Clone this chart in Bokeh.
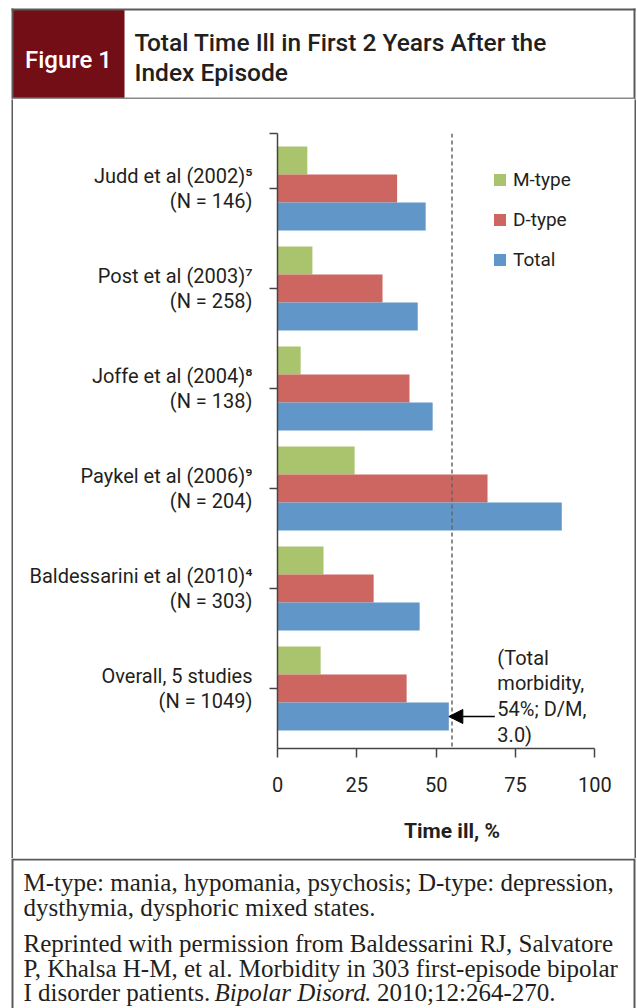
from bokeh.plotting import figure
from bokeh.models import (Range1d, FixedTicker, Legend, LegendItem, Span, Label,
                          Arrow, NormalHead, ColumnDataSource, Spacer)
from bokeh.layouts import column, row
from bokeh.transform import dodge
from bokeh.core.properties import value
from bokeh.embed import file_html
from bokeh.resources import INLINE

# ---------------- data ----------------
studies = ["Judd et al (2002)\u2075", "Post et al (2003)\u2077", "Joffe et al (2004)\u2078",
           "Paykel et al (2006)\u2079", "Baldessarini et al (2010)\u2074", "Overall, 5 studies"]
sample_sizes = ["(N = 146)", "(N = 258)", "(N = 138)", "(N = 204)", "(N = 303)", "(N = 1049)"]
m_type = [9.4, 11.0, 7.3, 24.3, 14.5, 13.6]
d_type = [37.7, 33.1, 41.6, 66.2, 30.3, 40.7]
total = [46.7, 44.2, 48.9, 89.6, 44.8, 54.0]
x_ticks = [0, 25, 50, 75, 100]
reference_line = 55
overall_note = "(Total\nmorbidity,\n54%; D/M,\n3.0)"
series_names = ["M-type", "D-type", "Total"]
series_colors = ["#A9C46C", "#CD6661", "#6096C8"]
figure_tag = "Figure 1"
title_lines = ["Total Time Ill in First 2 Years After the", "Index Episode"]
foot_lines = ["M-type: mania, hypomania, psychosis; D-type: depression,",
              "dysthymia, dysphoric mixed states.",
              "Reprinted with permission from Baldessarini RJ, Salvatore",
              "P, Khalsa H-M, et al. Morbidity in 303 first-episode bipolar"]
foot_last = ["I disorder patients.", "Bipolar Disord", ". 2010;12:264-270."]

# ---------------- style ----------------
W = 637
HEAD_H, PLOT_H, FOOT_H = 99, 759, 150
SANS = "Roboto"
SANS_MED = "Roboto Medium, Roboto"
SERIF = "Liberation Serif"
INK = "#231F20"
BORDER = "#5a5a5a"
MAROON = "#730D16"
XL, XR = 12, 634          # outer border lines (page px)


def canvas_fig(w, h, fill="white"):
    f = figure(width=w, height=h, x_range=Range1d(0, w), y_range=Range1d(h, 0),
               toolbar_location=None, output_backend="svg", min_border=0,
               x_axis_location=None, y_axis_location=None, outline_line_color=None,
               background_fill_color=fill, border_fill_color=fill, frame_align=False)
    f.grid.visible = False
    return f


# ---------------- header ----------------
h = canvas_fig(W, HEAD_H)
h.quad(left=[XL], right=[124], top=[9], bottom=[98], fill_color=MAROON, line_color=None)
h.segment(x0=[XL - 1], y0=[9], x1=[XR + 1], y1=[9], line_color=BORDER, line_width=2)
h.segment(x0=[XL, XR], y0=[8, 8], x1=[XL, XR], y1=[HEAD_H, HEAD_H], line_color=BORDER, line_width=2)
h.segment(x0=[XL], y0=[98], x1=[XR], y1=[98], line_color="#8a8a8a", line_width=2)
h.text(x=[68], y=[59], text=[figure_tag], text_color="white", text_font=value(SANS_MED),
       text_font_size="24px", text_align="center", text_baseline="middle")
h.text(x=[134, 134], y=[42, 72], text=title_lines, text_color=INK, text_font=value(SANS_MED),
       text_font_size="24.5px", text_align="left", text_baseline="middle")

# ---------------- plot ----------------
n = len(studies)
src = ColumnDataSource(dict(pos=list(range(n)), m=m_type, d=d_type, t=total))
PW = XR - XL - 1
p = figure(width=PW, height=PLOT_H, x_range=Range1d(0, 110), y_range=Range1d(5.6, -0.55),
           toolbar_location=None, output_backend="svg", frame_align=False,
           min_border_left=264, min_border_right=PW - 264 - 349, min_border_top=34,
           min_border_bottom=110, outline_line_color=None)
p.grid.visible = False

bw = 0.28
r_m = p.hbar(y=dodge("pos", -bw, range=p.y_range), left=0, right="m", height=bw, source=src,
             fill_color=series_colors[0], line_color=None)
r_d = p.hbar(y=dodge("pos", 0, range=p.y_range), left=0, right="d", height=bw, source=src,
             fill_color=series_colors[1], line_color=None)
r_t = p.hbar(y=dodge("pos", bw, range=p.y_range), left=0, right="t", height=bw, source=src,
             fill_color=series_colors[2], line_color=None)

p.add_layout(Span(location=reference_line, dimension="height", line_color="#666666",
                  line_width=1.5, line_dash="4 3"))

xa = p.xaxis[0]
xa.ticker = FixedTicker(ticks=x_ticks)
xa.bounds = (0, 100)
xa.axis_label = "Time ill, %"
xa.axis_label_text_font = SANS
xa.axis_label_text_font_style = "bold"
xa.axis_label_text_font_size = "21px"
xa.axis_label_text_color = INK
xa.axis_label_standoff = 24
xa.major_label_text_font = SANS
xa.major_label_text_font_size = "20px"
xa.major_label_text_color = INK
xa.major_label_standoff = 19
xa.major_tick_in = 0
xa.major_tick_out = 9
xa.minor_tick_line_color = None
xa.axis_line_color = "#444444"
xa.axis_line_width = 1.5
xa.major_tick_line_color = "#444444"
xa.major_tick_line_width = 1.5

ya = p.yaxis[0]
top_tick = -0.55
ya.ticker = FixedTicker(ticks=[top_tick] + list(range(n)))
overrides = {top_tick: ""}
for i in range(n):
    overrides[i] = studies[i] + "\n" + sample_sizes[i]
ya.major_label_overrides = overrides
ya.major_label_text_font = SANS
ya.major_label_text_font_size = "20px"
ya.major_label_text_color = INK
ya.major_label_text_line_height = 1.08
ya.major_label_standoff = 17
ya.major_tick_in = 0
ya.major_tick_out = 8
ya.minor_tick_line_color = None
ya.axis_line_color = "#444444"
ya.axis_line_width = 1.5
ya.major_tick_line_color = "#444444"
ya.major_tick_line_width = 1.5

legend = Legend(items=[LegendItem(label=series_names[0], renderers=[r_m]),
                       LegendItem(label=series_names[1], renderers=[r_d]),
                       LegendItem(label=series_names[2], renderers=[r_t])],
                location=(215, 477), glyph_width=15, glyph_height=15, label_height=20,
                label_standoff=6, spacing=17, padding=0, margin=0,
                border_line_color=None, background_fill_alpha=0,
                label_text_font=SANS, label_text_font_size="19px", label_text_color=INK)
p.add_layout(legend)

y_overall = n - 1 + bw
p.add_layout(Arrow(end=NormalHead(size=14, fill_color="black", line_color="black"),
                   x_start=68.5, y_start=y_overall, x_end=total[-1], y_end=y_overall,
                   line_color="black", line_width=1.5))
p.add_layout(Label(x=69.3, y=4.57, text=overall_note, text_baseline="top", text_align="left",
                   text_font=SANS, text_font_size="20px", text_color=INK, text_line_height=1.07))

middle = row(Spacer(width=XL - 1, height=PLOT_H),
             canvas_fig(2, PLOT_H, BORDER), p, canvas_fig(2, PLOT_H, BORDER), spacing=0)

# ---------------- footer ----------------
f = canvas_fig(W, FOOT_H)
f.segment(x0=[XL], y0=[1], x1=[XR], y1=[1], line_color=BORDER, line_width=2)
f.segment(x0=[XL, XR], y0=[0, 0], x1=[XL, XR], y1=[FOOT_H, FOOT_H], line_color=BORDER, line_width=2)
f.text(x=[23] * 4, y=[24, 49, 85, 110], text=foot_lines, text_color=INK, text_font=value(SERIF),
       text_font_size="25px", text_align="left", text_baseline="middle")
f.text(x=[23, 214, 364], y=[134] * 3, text=foot_last, text_color=INK, text_font=value(SERIF),
       text_font_size="25px", text_font_style=["normal", "italic", "normal"],
       text_align="left", text_baseline="middle")

layout = column(h, middle, f, spacing=0)
open("out.html", "w").write(file_html(layout, INLINE))
